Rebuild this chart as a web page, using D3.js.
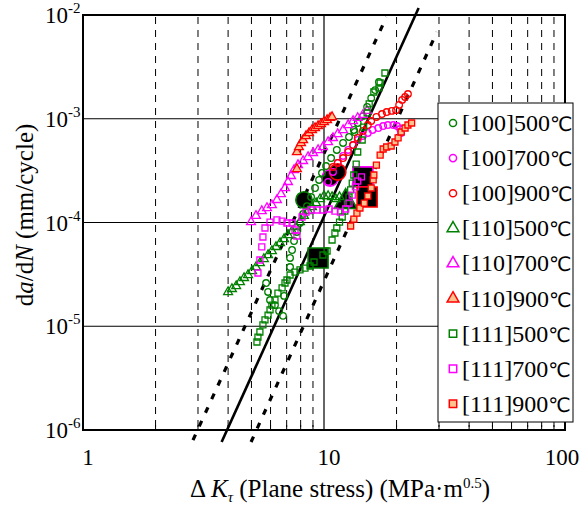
<!DOCTYPE html>
<html>
<head>
<meta charset="utf-8">
<script src="https://cdn.jsdelivr.net/npm/d3@7"></script>
<style>
body { margin: 0; background: #fff; }
text { font-family: "Liberation Serif", "Times New Roman", serif; fill: #000; }
</style>
</head>
<body>
<svg id="chart" width="581" height="507"></svg>
<script>
// da/dN vs dK_tau, values as [dK (MPa m^0.5), da/dN (mm/cycle)]
var s100_500 = [[5.75,2.61e-5],[5.86,2.14e-5],[5.97,1.79e-5],[6.26,1.60e-5],[6.51,1.40e-5],[6.76,1.26e-5],[6.83,1.96e-5],
  [7.23,3.72e-5],[7.23,4.55e-5],[7.37,5.43e-5],[7.51,6.63e-5],[7.72,8.10e-5],[7.95,9.89e-5],[8.19,1.21e-4],[8.50,1.44e-4],
  [8.84,1.76e-4],[9.18,2.15e-4],[9.54,2.57e-4],[9.81,3.00e-4],[10.2,3.50e-4],[10.7,4.18e-4],[11.3,5.00e-4],[12.0,5.84e-4],
  [12.7,6.67e-4],[13.3,7.79e-4],[13.4,7.45e-4],[13.8,9.10e-4],[14.5,1.06e-3],[15.1,1.30e-3],[15.7,1.58e-3],[16.3,1.89e-3],[16.9,2.26e-3]];
var s100_700 = [[10.4,2.46e-4],[10.9,3.07e-4],[11.4,3.75e-4],[12.0,4.38e-4],[12.6,5.00e-4],[13.2,5.58e-4],[13.8,6.24e-4],
  [14.5,6.82e-4],[15.2,7.29e-4],[15.9,7.79e-4],[16.8,8.14e-4],[17.6,8.51e-4],[18.4,8.70e-4],[19.4,8.70e-4],[20.1,8.51e-4],
  [20.7,7.96e-4],[20.9,7.29e-4]];
var s100_900 = [[10.9,3.43e-4],[11.4,3.75e-4],[12.0,4.18e-4],[12.6,4.78e-4],[13.2,5.58e-4],[13.8,6.53e-4],[14.5,7.62e-4],
  [15.2,8.70e-4],[15.7,9.51e-4],[16.5,1.04e-3],[17.4,1.11e-3],[18.2,1.16e-3],[19.1,1.19e-3],[19.9,1.21e-3],[20.5,1.36e-3],
  [21.1,1.52e-3],[21.7,1.62e-3],[22.3,1.73e-3]];
var s110_500 = [[4.00,2.14e-5],[4.15,2.29e-5],[4.32,2.44e-5],[4.48,2.67e-5],[4.66,2.92e-5],[4.84,3.12e-5],[5.03,3.41e-5],
  [5.22,3.72e-5],[5.42,4.07e-5],[5.63,4.45e-5],[5.86,4.86e-5],[6.08,5.31e-5],[6.32,5.81e-5],[6.57,6.34e-5],[6.83,6.93e-5],
  [7.09,7.58e-5],[7.37,8.28e-5],[7.65,9.05e-5],[7.95,1.01e-4],[8.26,1.16e-4],[8.59,1.29e-4],[8.92,1.41e-4],[9.27,1.54e-4],
  [9.63,1.68e-4],[10.0,1.80e-4],[10.4,1.80e-4],[10.8,1.76e-4],[11.2,1.68e-4],[11.6,1.76e-4]];
var s110_700 = [[4.98,1.01e-4],[5.22,1.16e-4],[5.52,1.29e-4],[5.80,1.38e-4],[6.08,1.47e-4],[6.38,1.65e-4],[6.63,1.88e-4],
  [6.89,2.15e-4],[7.09,2.46e-4],[7.30,2.81e-4],[7.51,3.21e-4],[7.80,3.58e-4],[8.19,3.92e-4],[8.59,4.28e-4],[9.01,4.68e-4],
  [9.45,5.00e-4],[9.90,5.34e-4],[10.4,5.97e-4],[10.9,6.53e-4],[11.4,7.13e-4],[12.0,7.79e-4],[12.6,8.70e-4],[13.2,9.51e-4],
  [13.8,1.02e-3],[14.5,1.09e-3],[15.1,1.19e-3]];
var s110_900 = [[7.72,4.78e-4],[7.87,5.34e-4],[8.03,5.84e-4],[8.19,6.24e-4],[8.42,6.82e-4],[8.67,7.29e-4],[8.92,7.79e-4],
  [9.18,8.14e-4],[9.45,8.51e-4],[9.72,8.90e-4],[10.0,9.30e-4],[10.3,9.72e-4],[10.6,1.02e-3],[10.8,1.04e-3],[7.72,3.28e-4]];
var s111_500 = [[5.27,7.05e-6],[5.32,7.87e-6],[5.42,8.80e-6],[5.58,1.03e-5],[5.69,1.15e-5],[5.86,1.28e-5],[5.97,1.44e-5],
  [6.08,1.60e-5],[6.26,1.79e-5],[6.44,2.09e-5],[6.70,2.34e-5],[6.89,2.61e-5],[7.02,2.79e-5],[7.23,3.12e-5],[7.58,3.33e-5],
  [7.95,3.49e-5],[8.34,3.64e-5],[8.75,3.81e-5],[9.09,4.16e-5],[9.90,4.86e-5],[10.3,5.31e-5],[10.8,6.78e-5],[11.1,7.92e-5],
  [11.3,8.85e-5],[11.6,1.01e-4],[11.9,1.13e-4],[12.2,1.29e-4],[12.5,1.51e-4],[12.7,1.76e-4],[12.9,2.06e-4],[13.1,2.40e-4],
  [13.3,2.87e-4],[13.6,3.66e-4],[13.8,4.78e-4],[14.4,6.24e-4],[14.6,8.32e-4],[15.1,1.14e-3],[15.4,1.39e-3],[16.1,1.81e-3],
  [16.9,1.98e-3],[17.1,2.21e-3],[17.9,2.76e-3]];
var s111_700 = [[5.32,3.26e-5],[5.42,4.35e-5],[5.52,5.81e-5],[5.58,7.25e-5],[5.69,8.85e-5],[5.97,1.01e-4],[6.38,1.06e-4],
  [6.70,1.03e-4],[7.02,9.89e-5],[7.37,9.89e-5],[7.58,8.47e-5],[7.72,7.41e-5],[8.11,1.13e-4],[8.42,1.26e-4],[8.84,1.32e-4],
  [9.36,1.32e-4],[9.90,1.32e-4],[10.5,1.35e-4],[11.1,1.29e-4],[11.7,1.26e-4],[12.3,1.35e-4],[12.7,1.54e-4],[13.1,1.84e-4],
  [13.5,2.20e-4],[13.8,2.51e-4],[14.3,2.75e-4]];
var s111_900 = [[12.9,9.25e-5],[13.3,1.08e-4],[13.7,1.23e-4],[14.1,1.38e-4],[14.7,1.54e-4],[15.2,1.80e-4],[15.7,2.15e-4],
  [16.0,2.57e-4],[16.1,2.87e-4],[16.5,3.58e-4],[17.1,4.47e-4],[17.6,5.11e-4],[18.2,5.34e-4],[19.0,5.46e-4],[19.7,5.97e-4],
  [20.3,6.53e-4],[20.9,7.45e-4],[21.7,8.14e-4],[22.3,8.70e-4],[23.1,9.10e-4]];

// large black markers (one per condition that is visible)
var bigK    = [8.26, 10.6, 11.4, 12.3, 14.5, 15.1, 9.45];
var bigRate = [1.65e-4, 2.69e-4, 3.07e-4, 1.58e-4, 2.75e-4, 1.76e-4, 4.55e-5];
var bigKey  = ['100_500', '100_700', '100_900', '110_500', '111_700', '111_900', '111_500'];

// Paris-law lines, end points
var fitMid   = [[3.76, 7.66e-7], [24.7, 1.17e-2]];
var fitLeft  = [[2.86, 8.0e-7], [18.15, 9.57e-3]];
var fitRight = [[4.98, 7.66e-7], [29.4, 6.86e-3]];

var legendLabels = ['[100]500', '[100]700', '[100]900', '[110]500', '[110]700', '[110]900', '[111]500', '[111]700', '[111]900'];
var xMinor = [2, 3, 4, 5, 6, 7, 8, 9, 20, 30, 40, 50, 60, 70, 80, 90];
var xMajor = [1, 10, 100];
var yExp = [-2, -3, -4, -5, -6];

var GREEN = '#008000', MAGENTA = '#ff00ff', RED = '#ff0000', PEACH = '#fdc28e';

var series = [
  {key: '100_500', data: s100_500, shape: 'circle', color: GREEN, fill: 'none'},
  {key: '100_700', data: s100_700, shape: 'circle', color: MAGENTA, fill: 'none'},
  {key: '100_900', data: s100_900, shape: 'circle', color: RED, fill: 'none'},
  {key: '110_500', data: s110_500, shape: 'triangle', color: GREEN, fill: 'none'},
  {key: '110_700', data: s110_700, shape: 'triangle', color: MAGENTA, fill: 'none'},
  {key: '110_900', data: s110_900, shape: 'triangle', color: RED, fill: PEACH},
  {key: '111_500', data: s111_500, shape: 'square', color: GREEN, fill: 'none'},
  {key: '111_700', data: s111_700, shape: 'square', color: MAGENTA, fill: 'none'},
  {key: '111_900', data: s111_900, shape: 'square', color: RED, fill: PEACH}
];
var byKey = {};
series.forEach(function (s) { byKey[s.key] = s; });

var svg = d3.select('#chart');
var L = 83, R = 565, T = 15, B = 430;

var x = d3.scaleLog().domain([1, 100]).range([L, R]);
var y = d3.scaleLog().domain([1e-6, 1e-2]).range([B, T]);

var symType = {circle: d3.symbolCircle, triangle: d3.symbolTriangle, square: d3.symbolSquare};
var smallSize = {circle: 34, triangle: 34, square: 36};
var bigSize = {circle: 210, triangle: 230, square: 400};

// grid
var grid = svg.append('g');
grid.selectAll('line.vd')
  .data(xMinor)
  .enter().append('line')
  .attr('x1', function (d) { return x(d); })
  .attr('x2', function (d) { return x(d); })
  .attr('y1', T + 2).attr('y2', B)
  .attr('stroke', '#000').attr('stroke-width', 1)
  .attr('stroke-dasharray', '7,6');

grid.append('line')
  .attr('x1', x(10)).attr('x2', x(10)).attr('y1', T).attr('y2', B)
  .attr('stroke', '#000').attr('stroke-width', 1.2);

grid.selectAll('line.hz')
  .data([1e-3, 1e-4, 1e-5])
  .enter().append('line')
  .attr('x1', L).attr('x2', R)
  .attr('y1', function (d) { return y(d); })
  .attr('y2', function (d) { return y(d); })
  .attr('stroke', '#000').attr('stroke-width', 1.2);

// bottom minor ticks
svg.append('g').selectAll('line')
  .data(xMinor)
  .enter().append('line')
  .attr('x1', function (d) { return x(d); })
  .attr('x2', function (d) { return x(d); })
  .attr('y1', B).attr('y2', B - 5)
  .attr('stroke', '#000').attr('stroke-width', 1);

// fitted lines
var line = d3.line()
  .x(function (d) { return x(d[0]); })
  .y(function (d) { return y(d[1]); });

svg.append('path').datum(fitMid).attr('d', line)
  .attr('fill', 'none').attr('stroke', '#000').attr('stroke-width', 2.6);
[fitLeft, fitRight].forEach(function (f) {
  svg.append('path').datum(f).attr('d', line)
    .attr('fill', 'none').attr('stroke', '#000').attr('stroke-width', 3.2)
    .attr('stroke-dasharray', '6,9');
});

// big black markers
svg.append('g').selectAll('path')
  .data(bigK.map(function (k, i) { return {k: k, r: bigRate[i], s: byKey[bigKey[i]]}; }))
  .enter().append('path')
  .attr('transform', function (d) { return 'translate(' + x(d.k) + ',' + y(d.r) + ')'; })
  .attr('d', function (d) { return d3.symbol().type(symType[d.s.shape]).size(bigSize[d.s.shape])(); })
  .attr('fill', '#000')
  .attr('stroke', function (d) { return d.s.color; })
  .attr('stroke-width', 1.6);

// data points
series.forEach(function (s) {
  var sym = d3.symbol().type(symType[s.shape]).size(smallSize[s.shape]);
  svg.append('g').selectAll('path')
    .data(s.data)
    .enter().append('path')
    .attr('transform', function (d) { return 'translate(' + x(d[0]) + ',' + y(d[1]) + ')'; })
    .attr('d', sym)
    .attr('fill', s.fill)
    .attr('stroke', s.color)
    .attr('stroke-width', 1.3);
});

// frame
svg.append('rect')
  .attr('x', L).attr('y', T).attr('width', R - L).attr('height', B - T)
  .attr('fill', 'none').attr('stroke', '#000').attr('stroke-width', 2);

// x tick labels
svg.append('g').selectAll('text')
  .data(xMajor)
  .enter().append('text')
  .attr('x', function (d) { return Math.min(x(d) + 5, 562); })
  .attr('y', 465)
  .attr('text-anchor', 'middle')
  .style('font-size', '23px')
  .text(String);

// y tick labels 10^n
var yt = svg.append('g').selectAll('g')
  .data(yExp)
  .enter().append('g')
  .attr('transform', function (d) { return 'translate(0,' + y(Math.pow(10, d)) + ')'; });
yt.append('text')
  .attr('x', 68).attr('y', 8)
  .attr('text-anchor', 'end')
  .style('font-size', '23px')
  .text('10');
yt.append('text')
  .attr('x', 68).attr('y', -2)
  .style('font-size', '15px')
  .text(function (d) { return d; });

// axis titles
var xt = svg.append('text')
  .attr('x', 340).attr('y', 497)
  .attr('text-anchor', 'middle')
  .style('font-size', '25px');
xt.append('tspan').text('\u0394 ');
xt.append('tspan').style('font-style', 'italic').text('K');
xt.append('tspan').attr('dy', 5).style('font-size', '15px').style('font-style', 'italic').text('\u03c4');
xt.append('tspan').attr('dy', -5).text(' (Plane stress) (MPa\u00b7m');
xt.append('tspan').attr('dy', -9).style('font-size', '15px').text('0.5');
xt.append('tspan').attr('dy', 9).text(')');

var ytl = svg.append('text')
  .attr('transform', 'translate(33,215) rotate(-90)')
  .attr('text-anchor', 'middle')
  .style('font-size', '25px');
ytl.append('tspan').text('d');
ytl.append('tspan').style('font-style', 'italic').text('a');
ytl.append('tspan').text('/d');
ytl.append('tspan').style('font-style', 'italic').text('N');
ytl.append('tspan').text(' (mm/cycle)');

// legend
var lg = svg.append('g');
lg.append('rect')
  .attr('x', 438).attr('y', 103).attr('width', 135).attr('height', 319)
  .attr('fill', '#fff').attr('stroke', '#000').attr('stroke-width', 1);

var legendSize = {circle: 40, triangle: 60, square: 55};
var items = lg.selectAll('g.item')
  .data(series)
  .enter().append('g')
  .attr('transform', function (d, i) { return 'translate(0,' + (122 + i * 35.1) + ')'; });
items.append('path')
  .attr('transform', 'translate(453,1)')
  .attr('d', function (d) { return d3.symbol().type(symType[d.shape]).size(legendSize[d.shape])(); })
  .attr('fill', function (d) { return d.fill === 'none' ? '#fff' : d.fill; })
  .attr('stroke', function (d) { return d.color; })
  .attr('stroke-width', 1.5);
var lt = items.append('text')
  .attr('x', 462).attr('y', 9)
  .style('font-size', '24px');
lt.append('tspan').text(function (d, i) { return legendLabels[i]; });
lt.append('tspan').style('font-family', '"DejaVu Sans", sans-serif').style('font-size', '20px').text('\u2103');
</script>
</body>
</html>
